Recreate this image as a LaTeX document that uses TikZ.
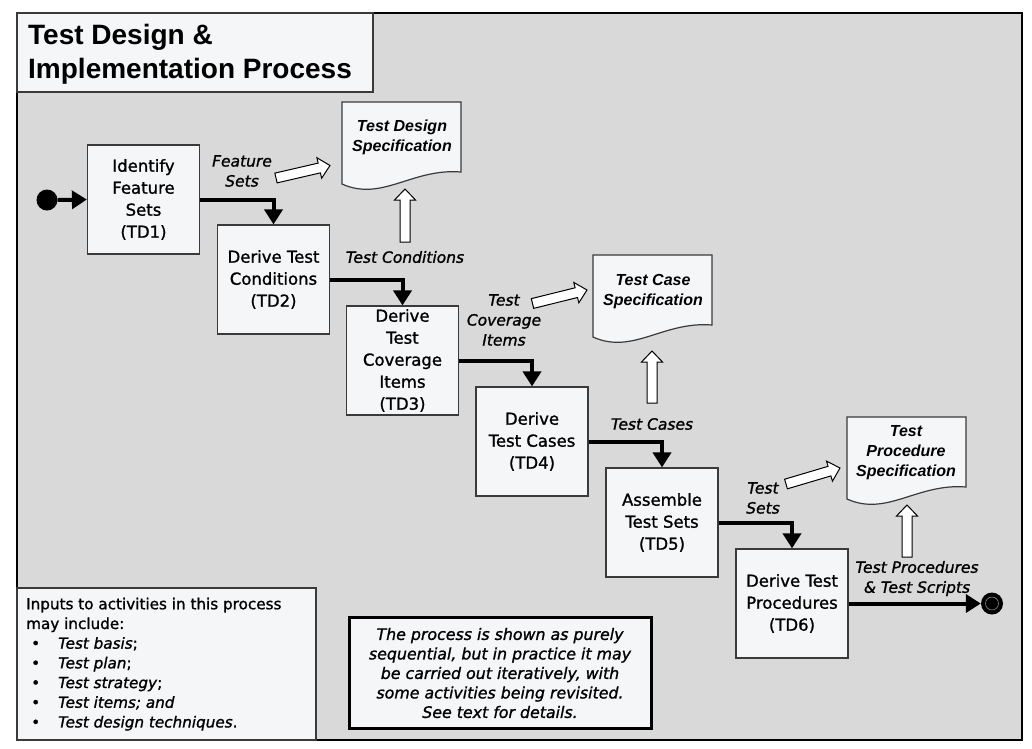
\documentclass[tikz,border=0pt]{standalone}
\usepackage{fontspec}
\setmainfont{DejaVu Sans}[FakeBold=1.2]
\newfontfamily\arialfam{Liberation Sans}
\usetikzlibrary{arrows.meta,calc}
\definecolor{bggray}{HTML}{D9D9D9}
\definecolor{boxfill}{HTML}{F4F6F8}
\definecolor{boxline}{HTML}{3A3A3A}
\newcommand\hollowarrow[2]{%
  \coordinate (hb) at ($(#2)!11pt!(#1)$);
  \draw[hollowstyle] ($(#1)!5pt!90:(#2)$) -- ($(hb)!5pt!90:(#2)$) -- ($(hb)!10.5pt!90:(#2)$) -- (#2)
     -- ($(hb)!10.5pt!-90:(#2)$) -- ($(hb)!5pt!-90:(#2)$) -- ($(#1)!5pt!-90:(#2)$) -- cycle;}
\newcommand\docpath[3]{%
  \draw[docstyle] (#1,#3) -- (#1,#2) -- ({#1+119},#2) -- ({#1+119},{#3-12})
     .. controls ({#1+70},{#3-16}) and ({#1+40},{#3+18}) .. (#1,#3) -- cycle;}
\newcommand\bitem[1]{\hspace*{5pt}\makebox[27pt][l]{•}#1}
\begin{document}
\begin{tikzpicture}[x=1pt,y=-1pt,
  proc/.style={draw=boxline, line width=1.2pt, fill=boxfill, minimum width=112pt, minimum height=109pt,
     inner sep=0pt, align=center, font=\fontsize{16.5}{22}\selectfont},
  flow/.style={line width=4pt, -{Triangle[length=15pt,width=18pt]}},
  lbl/.style={font=\fontsize{15.5}{20}\selectfont\itshape, align=center, inner sep=0pt},
  doctext/.style={font=\arialfam\bfseries\itshape\fontsize{16}{20}\selectfont, align=center, inner sep=0pt},
  docstyle/.style={draw=boxline, line width=1.2pt, fill=boxfill},
  hollowstyle/.style={draw=black, line width=1pt, fill=white, line join=miter},
  titletext/.style={font=\arialfam\bfseries\fontsize{28}{34}\selectfont, align=left, inner sep=0pt},
  smalltext/.style={font=\fontsize{15.2}{19.7}\selectfont, align=left, inner sep=0pt},
  notetext/.style={font=\fontsize{15.8}{19.5}\selectfont\itshape, align=center, inner sep=0pt}
]
\useasboundingbox (0,0) rectangle (1032,748);
\fill[white] (0,0) rectangle (1032,748);
\draw[fill=bggray, line width=1.5pt] (17,13) rectangle (1022,740);
\draw[fill=boxfill, draw=boxline, line width=1.2pt] (17,13) rectangle (373,92);
\node[titletext, anchor=north west] (title) at (28,24.5) {Test Design \&\\Implementation Process};

% documents
\docpath{342}{102}{184}
\docpath{593}{255}{337}
\docpath{847}{417}{499}
\node[doctext] (doc1) at (402,137) {Test Design\\Specification};
\node[doctext] (doc2) at (653,291.5) {Test Case\\Specification};
\node[doctext] (doc3) at (906,452.5) {Test\\Procedure\\Specification};

% process boxes
\node[proc] (td1) at (143.5,199.5) {Identify\\Feature\\Sets\\(TD1)};
\node[proc] (td2) at (273.5,279.5) {Derive Test\\Conditions\\(TD2)};
\node[proc] (td3) at (402.5,360.5) {Derive\\Test\\Coverage\\Items\\(TD3)};
\node[proc] (td4) at (532,441.5) {Derive\\Test Cases\\(TD4)};
\node[proc] (td5) at (662,522.5) {Assemble\\Test Sets\\(TD5)};
\node[proc] (td6) at (792,603.5) {Derive Test\\Procedures\\(TD6)};

% start / end
\node[circle, fill=black, minimum size=21pt, inner sep=0pt] (start) at (47,200) {};
\node[circle, fill=black, minimum size=22pt, inner sep=0pt] (endc) at (992,603.5) {};
\draw[black!45, line width=0.6pt] (endc.center) circle (6.5pt);

% flows
\draw[flow] (start.east) -- (td1.west);
\draw[flow] (td1.east) -| (td2.north);
\draw[flow] (td2.east) -| (td3.north);
\draw[flow] (td3.east) -| (td4.north);
\draw[flow] (td4.east) -| (td5.north);
\draw[flow] (td5.east) -| (td6.north);
\draw[flow] (td6.east) -- (endc.west);

% labels
\node[lbl] (lfs) at (242,171) {Feature\\Sets};
\node[lbl] (ltc) at (405,257) {Test Conditions};
\node[lbl] (ltci) at (504,320) {Test\\Coverage\\Items};
\node[lbl] (lcases) at (652,424) {Test Cases};
\node[lbl] (lsets) at (763,498) {Test\\Sets};
\node[lbl] (lproc) at (917,578.5) {Test Procedures\\\& Test Scripts};

% hollow arrows
\coordinate (a1t) at (276,178);   \coordinate (a1h) at (330,165.5);
\coordinate (v1t) at (405,242);   \coordinate (v1h) at (405,189);
\coordinate (a2t) at (532.5,303.5); \coordinate (a2h) at (587,290);
\coordinate (v2t) at (652,403);   \coordinate (v2h) at (652,351);
\coordinate (a3t) at (786,484);   \coordinate (a3h) at (840,468);
\coordinate (v3t) at (907,557);   \coordinate (v3h) at (907,505);
\hollowarrow{a1t}{a1h}
\hollowarrow{v1t}{v1h}
\hollowarrow{a2t}{a2h}
\hollowarrow{v2t}{v2h}
\hollowarrow{a3t}{a3h}
\hollowarrow{v3t}{v3h}

% inputs box
\draw[fill=boxfill, draw=boxline, line width=1.2pt] (17,588) rectangle (316,740);
\node[smalltext, anchor=north west] (inputs) at (26,597.5) {Inputs to activities in this process\\may include:\\
\bitem{\textit{Test basis};}\\
\bitem{\textit{Test plan};}\\
\bitem{\textit{Test strategy};}\\
\bitem{\textit{Test items; and}}\\
\bitem{\textit{Test design techniques}.}};

% note box
\draw[fill=boxfill, draw=black, line width=3pt] (349,617) rectangle (651,728);
\node[notetext] (note) at (500,673) {The process is shown as purely\\sequential, but in practice it may\\be carried out iteratively, with\\some activities being revisited.\\See text for details.};
\end{tikzpicture}
\end{document}
